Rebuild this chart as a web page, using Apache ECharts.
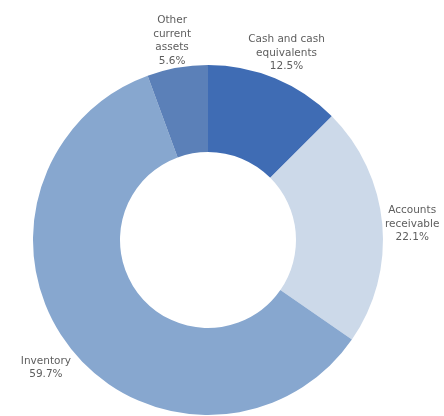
<!DOCTYPE html>
<html>
<head>
<meta charset="utf-8">
<style>
  html, body { margin: 0; padding: 0; background: #ffffff; }
  #chart { width: 444px; height: 416px; }
</style>
<script src="https://cdn.jsdelivr.net/npm/echarts@6/dist/echarts.min.js"></script>
</head>
<body>
<div id="chart"></div>
<script>
// Composition of current assets (share of total, %)
const categories = ['Cash and cash\nequivalents', 'Accounts\nreceivable', 'Inventory', 'Other\ncurrent\nassets'];
const shares = [12.5, 22.1, 59.7, 5.6];
const sliceColors = ['#3f6cb4', '#ccd9e9', '#87a7cf', '#5b80b8'];

const chart = echarts.init(document.getElementById('chart'), null, { renderer: 'canvas' });

const CX = 208, CY = 240, R_IN = 88, R_OUT = 175, R_LABEL = 205, LABEL_DY = 2.5;
const total = shares.reduce((a, b) => a + b, 0);

// mid-angle of each slice, measured clockwise from 12 o'clock
function midAngle(i) {
  let before = 0;
  for (let k = 0; k < i; k++) before += shares[k];
  return ((before + shares[i] / 2) / total) * Math.PI * 2;
}

chart.setOption({
  backgroundColor: '#ffffff',
  animation: false,
  series: [{
    type: 'pie',
    center: [CX, CY],
    radius: [R_IN, R_OUT],
    startAngle: 90,
    clockwise: true,
    avoidLabelOverlap: false,
    color: sliceColors,
    itemStyle: { borderColor: '#ffffff', borderWidth: 0 },
    label: {
      show: true,
      position: 'outside',
      alignTo: 'none',
      overflow: 'none',
      formatter: p => p.name + '\n' + p.value.toFixed(1) + '%',
      color: '#5e5e5e',
      fontFamily: 'DejaVu Sans',
      fontSize: 10.5,
      lineHeight: 13.5,
      align: 'center'
    },
    labelLine: { show: false },
    // centre each label on the slice's mid-angle, just outside the ring
    labelLayout: function (params) {
      const a = midAngle(params.dataIndex);
      return {
        x: CX + R_LABEL * Math.sin(a),
        y: CY - R_LABEL * Math.cos(a) + LABEL_DY,
        align: 'center',
        verticalAlign: 'middle'
      };
    },
    data: categories.map((name, i) => ({ name: name, value: shares[i] }))
  }]
});
</script>
</body>
</html>
